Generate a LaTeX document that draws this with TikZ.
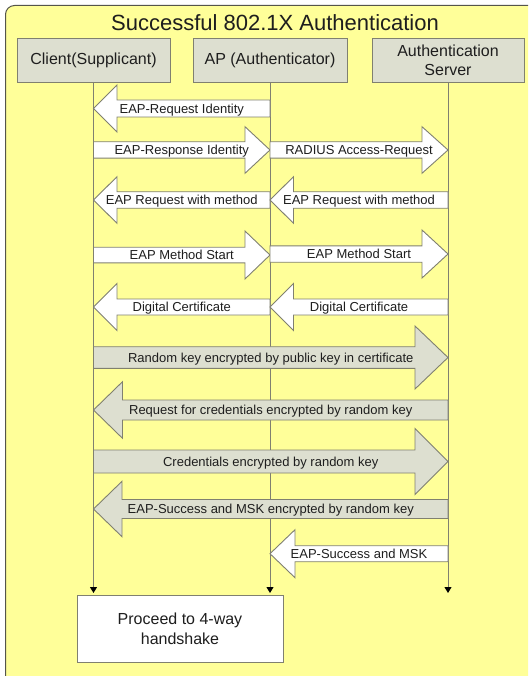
\documentclass[tikz,border=0pt]{standalone}
\usepackage{fontspec}
\setmainfont{Liberation Sans}
\usetikzlibrary{arrows.meta}
\definecolor{bgyellow}{RGB}{255,255,153}
\definecolor{boxgray}{RGB}{221,223,208}
\definecolor{edgegray}{RGB}{128,128,112}
\definecolor{framec}{RGB}{85,85,75}
\definecolor{txtc}{RGB}{30,30,30}
\newcommand{\blockarr}[9]{%
  % #1 name, #2 tail x, #3 tip x, #4 head base x, #5 y, #6 body half, #7 head half, #8 fill, #9 text
  \draw[barr,fill=#8] (#2,#5-#6) -- (#4,#5-#6) -- (#4,#5-#7) -- (#3,#5) -- (#4,#5+#7) -- (#4,#5+#6) -- (#2,#5+#6) -- cycle;
  \node[albl] (#1) at ({(#2+#3)/2},#5) {#9};
}
\begin{document}
\begin{tikzpicture}[x=1pt,y=-1pt,
  hdr/.style={draw=edgegray,fill=boxgray,line width=0.9pt,text=txtc,font=\fontsize{16}{19}\selectfont,minimum height=44pt,inner sep=0pt,align=center},
  life/.style={draw=edgegray,line width=1pt,-{Triangle[width=7pt,length=6pt,color=black]}},
  barr/.style={draw=edgegray,line width=0.9pt,line join=miter},
  albl/.style={text=txtc,font=\fontsize{13}{15}\selectfont,inner sep=0pt,text height=9.4pt,text depth=0pt},
  finbox/.style={draw=edgegray,fill=white,line width=0.9pt,text=txtc,font=\fontsize{16}{20}\selectfont,align=center,minimum width=206pt,minimum height=67pt,inner sep=0pt}]
\useasboundingbox (0,0) rectangle (528,676);
\fill[white] (0,0) rectangle (528,676);
\begin{scope}
\clip (0,0) rectangle (528,676);
\draw[rounded corners=9pt,fill=bgyellow,draw=framec,line width=1pt] (5.5,5.5) rectangle (570,720);
\end{scope}
\node[text=txtc,font=\fontsize{22}{26}\selectfont,inner sep=0pt] (title) at (275,23) {Successful 802.1X Authentication};
\node[hdr,minimum width=153pt] (cl) at (93.5,60) {Client(Supplicant)};
\node[hdr,minimum width=154pt] (ap) at (270,60) {AP (Authenticator)};
\node[hdr,minimum width=152pt] (sv) at (448,60) {Authentication\\Server};
\coordinate (clend) at (93.5,593);
\coordinate (apend) at (270,593);
\coordinate (svend) at (448,593);
\draw[life] (cl.south) -- (clend);
\draw[life] (ap.south) -- (apend);
\draw[life] (sv.south) -- (svend);
% messages
\blockarr{m1}{270}{93.5}{117}{108.5}{8.5}{23.5}{white}{EAP-Request Identity}
\blockarr{m2a}{93.5}{270}{245}{150}{8.2}{23.3}{white}{EAP-Response Identity}
\blockarr{m2b}{270}{448}{422}{150}{8.2}{23.3}{white}{RADIUS Access-Request}
\blockarr{m3a}{270}{93.5}{117}{200}{8.2}{23.3}{white}{EAP Request with method}
\blockarr{m3b}{448}{270}{293.5}{200}{8.2}{23.3}{white}{EAP Request with method}
\blockarr{m4a}{93.5}{270}{245}{255}{7.8}{24}{white}{EAP Method Start}
\blockarr{m4b}{270}{448}{422}{254}{8.2}{24}{white}{EAP Method Start}
\blockarr{m5a}{270}{93.5}{117}{307}{8}{23.5}{white}{Digital Certificate}
\blockarr{m5b}{448}{270}{293.5}{307}{8}{23.5}{white}{Digital Certificate}
\blockarr{m6}{93.5}{448}{415}{357.5}{10.8}{31.5}{boxgray}{Random key encrypted by public key in certificate}
\blockarr{m7}{448}{93.5}{122.5}{410}{10}{28.3}{boxgray}{Request for credentials encrypted by random key}
\blockarr{m8}{93.5}{448}{415}{461.5}{11.5}{33}{boxgray}{Credentials encrypted by random key}
\blockarr{m9}{448}{93.5}{122}{509}{9.5}{27.7}{boxgray}{EAP-Success and MSK encrypted by random key}
\blockarr{m10}{448}{270}{295}{553.7}{8}{24}{white}{EAP-Success and MSK}
\node[finbox] (fin) at (180,628.5) {Proceed to 4-way\\handshake};
\end{tikzpicture}
\end{document}
